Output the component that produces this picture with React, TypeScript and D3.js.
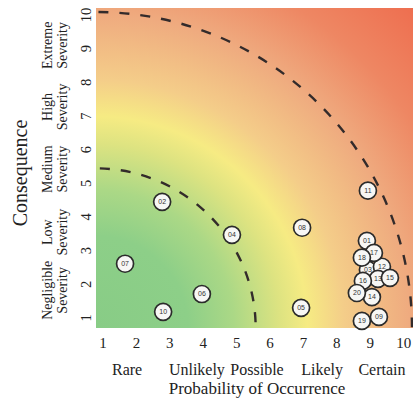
import React from "react";
import * as d3 from "d3";

const W = 413;
const H = 402;

// Risk identifiers, probability (x) and consequence (y)
const riskIds = ["01","02","03","04","05","06","07","08","09","10","11","12","13","14","15","16","17","18","19","20"];
const probability = [8.9, 2.77, 8.93, 4.86, 6.93, 3.96, 1.66, 6.96, 9.26, 2.8, 8.93, 9.35, 9.23, 9.05, 9.59, 8.78, 9.11, 8.75, 8.75, 8.6];
const consequence = [3.29, 4.45, 2.43, 3.47, 1.3, 1.71, 2.61, 3.68, 1.03, 1.18, 4.78, 2.52, 2.16, 1.62, 2.19, 2.1, 2.93, 2.79, 0.91, 1.74];

const xTicks = [1, 2, 3, 4, 5, 6, 7, 8, 9, 10];
const yTicks = [1, 2, 3, 4, 5, 6, 7, 8, 9, 10];

const probLabels = ["Rare", "Unlikely", "Possible", "Likely", "Certain"];
const probLabelPos = [1.72, 3.81, 5.61, 7.56, 9.35];

const sevLines1 = ["Extreme", "High", "Medium", "Low", "Negligible"];
const sevPos = [9.1, 7.27, 5.42, 3.55, 1.82];

const arcRadii = [4.78, 9.46];

const gradStops = [
  { o: 0, c: "#88cc86" },
  { o: 0.2, c: "#8dcf88" },
  { o: 0.3, c: "#abd886" },
  { o: 0.4, c: "#dde381" },
  { o: 0.46, c: "#f6eb83" },
  { o: 0.54, c: "#f4cd89" },
  { o: 0.68, c: "#efab7f" },
  { o: 0.82, c: "#ee8763" },
  { o: 1, c: "#ee6b4d" },
];

export default function App() {
  const left = 96, right = 413, top = 8, bottom = 328;
  const x = d3.scaleLinear().domain([0.79, 10.28]).range([left, right]);
  const y = d3.scaleLinear().domain([0.7, 10.21]).range([bottom, top]);
  const cx = x(x.domain()[0]);
  const cy = y(y.domain()[0]);
  const serif = "'Liberation Serif', 'Times New Roman', serif";

  return (
    <svg width={W} height={H} style={{ position: "absolute", left: 0, top: 0, background: "#fff" }}>
      <defs>
        <radialGradient id="g" gradientUnits="userSpaceOnUse" cx={cx} cy={cy} r={460}>
          {gradStops.map((s, i) => (
            <stop key={i} offset={s.o} stopColor={s.c} />
          ))}
        </radialGradient>
        <clipPath id="clip">
          <rect x={left} y={top} width={right - left} height={bottom - top} />
        </clipPath>
      </defs>
      <rect x={left} y={top} width={right - left} height={bottom - top} fill="url(#g)" />
      <g clipPath="url(#clip)">
        {arcRadii.map((r, i) => (
          <circle
            key={i}
            cx={cx}
            cy={cy}
            r={x(x.domain()[0] + r) - cx}
            fill="none"
            stroke="#332b2b"
            strokeWidth={2.4}
            strokeDasharray="10 11"
          />
        ))}
      </g>
      {riskIds.map((id, i) => (
        <g key={id} transform={`translate(${x(probability[i])},${y(consequence[i])})`}>
          <circle r={8.5} fill="#f7f7f5" stroke="#2b2b2b" strokeWidth={1.7} />
          <text textAnchor="middle" dy="0.35em" fontSize={7} fill="#333" fontFamily="'Liberation Sans', Arial, sans-serif">
            {id}
          </text>
        </g>
      ))}
      {xTicks.map((t) => (
        <text key={t} x={x(t)} y={348} textAnchor="middle" fontSize={15} fontFamily={serif} fill="#222">
          {t}
        </text>
      ))}
      {yTicks.map((t) => (
        <text key={t} transform={`translate(91,${y(t)}) rotate(-90)`} textAnchor="middle" fontSize={14.5} fontFamily={serif} fill="#222">
          {t}
        </text>
      ))}
      {probLabels.map((l, i) => (
        <text key={l} x={x(probLabelPos[i])} y={375} textAnchor="middle" fontSize={16} fontFamily={serif} fill="#222">
          {l}
        </text>
      ))}
      <text x={257} y={394} textAnchor="middle" fontSize={17} fontFamily={serif} fill="#222">
        Probability of Occurrence
      </text>
      {sevLines1.map((l, i) => (
        <g key={l} transform={`translate(0,${y(sevPos[i])})`}>
          <text transform="translate(52,0) rotate(-90)" textAnchor="middle" fontSize={14} fontFamily={serif} fill="#222">
            {l}
          </text>
          <text transform="translate(66.5,0) rotate(-90)" textAnchor="middle" fontSize={14} fontFamily={serif} fill="#222">
            Severity
          </text>
        </g>
      ))}
      <text transform="translate(27,173) rotate(-90)" textAnchor="middle" fontSize={20} fontFamily={serif} fill="#222">
        Consequence
      </text>
    </svg>
  );
}
